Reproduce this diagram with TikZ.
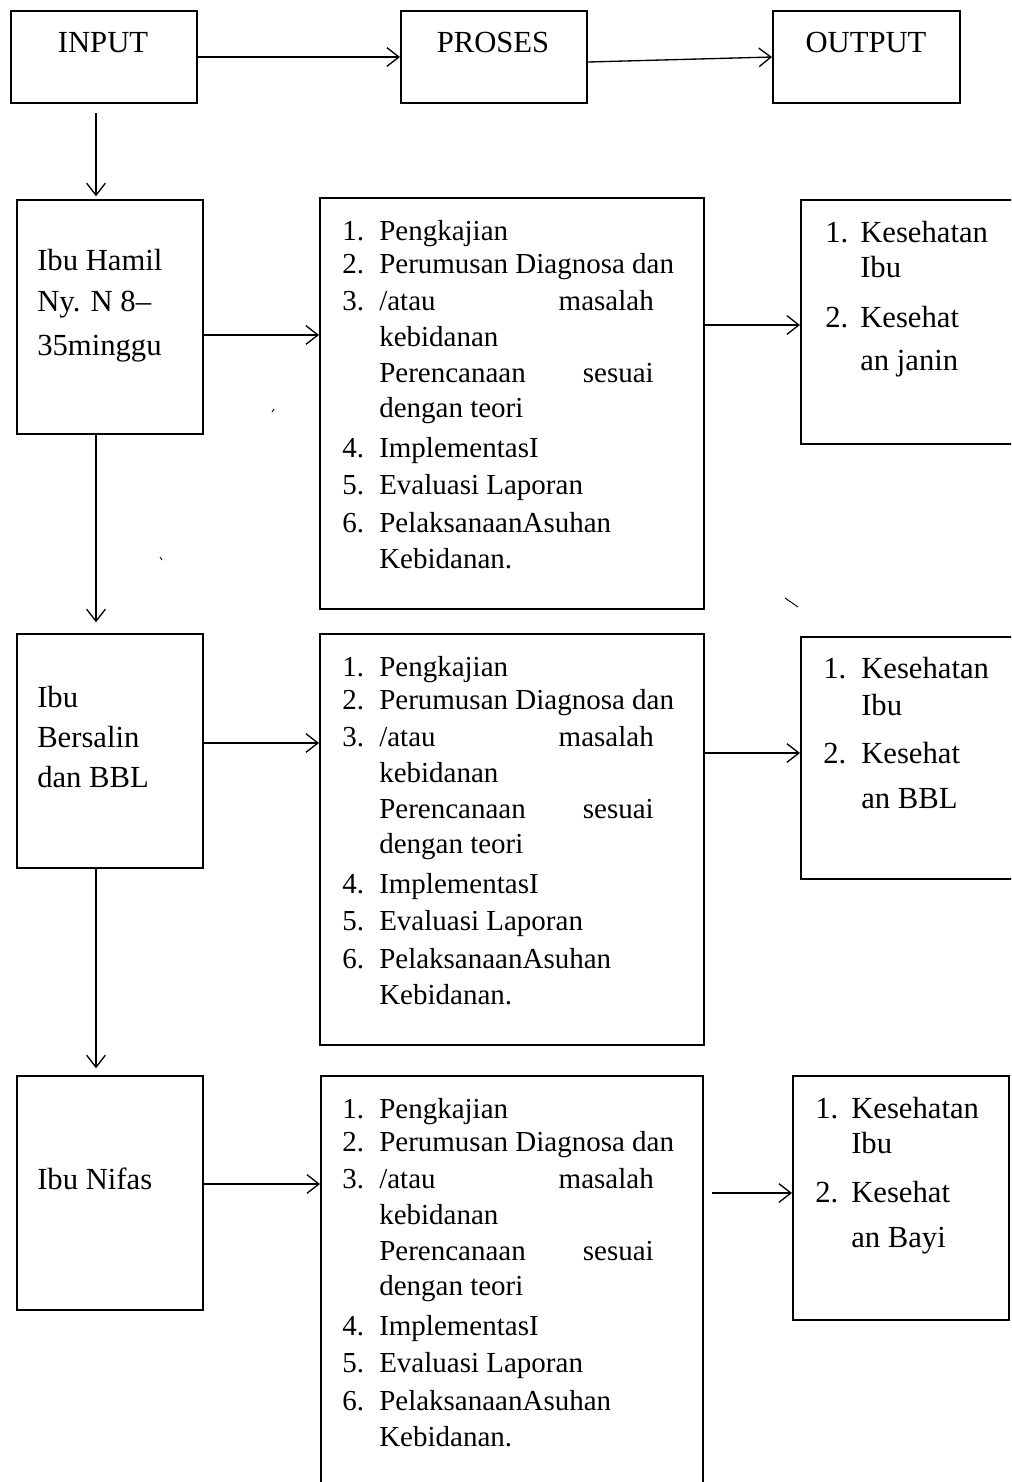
\documentclass[tikz,border=0pt]{standalone}
\usepackage{fontspec}
\setmainfont{Liberation Serif}
\usetikzlibrary{arrows.meta}
\tikzset{
 box/.style={draw, line width=1.5pt, inner sep=0pt, anchor=north west},
 arr/.style={line width=1pt, -{Straight Barb[length=9pt,width=14pt,line width=1pt]}},
 txt/.style={anchor=base west, inner sep=0pt, font=\fontsize{21.75}{26}\selectfont},
 txtr/.style={txt, anchor=base east},
 big/.style={anchor=base, inner sep=0pt, font=\fontsize{23}{28}\selectfont},
 bigl/.style={big, anchor=base west},
 stray/.style={line width=0.7pt},
}
\newcommand\mybox[5]{\node[box,minimum width={(#4-#2)*0.75pt},minimum height={(#5-#3)*0.75pt}] (#1) at (#2,#3) {};}
\newcommand\plist[2]{%
 \node[txt] (#1n1) at (342,{#2+43}) {1.};
 \node[txt] (#1a) at (379,{#2+43}) {Pengkajian};
 \node[txt] (#1n2) at (342,{#2+76}) {2.};
 \node[txt] (#1b) at (379,{#2+76}) {Perumusan Diagnosa dan};
 \node[txt] (#1n3) at (342,{#2+113}) {3.};
 \node[txt] (#1c) at (379,{#2+113}) {/atau};
 \node[txtr] (#1cc) at (654,{#2+113}) {masalah};
 \node[txt] (#1d) at (379,{#2+149}) {kebidanan};
 \node[txt] (#1e) at (379,{#2+185}) {Perencanaan};
 \node[txtr] (#1ee) at (654,{#2+185}) {sesuai};
 \node[txt] (#1f) at (379,{#2+220}) {dengan teori};
 \node[txt] (#1n4) at (342,{#2+260}) {4.};
 \node[txt] (#1g) at (379,{#2+260}) {ImplementasI};
 \node[txt] (#1n5) at (342,{#2+297}) {5.};
 \node[txt] (#1h) at (379,{#2+297}) {Evaluasi Laporan};
 \node[txt] (#1n6) at (342,{#2+335}) {6.};
 \node[txt] (#1i) at (379,{#2+335}) {PelaksanaanAsuhan};
 \node[txt] (#1j) at (379,{#2+371}) {Kebidanan.};
}
% name, xnum, xtext, y1, y2, y3, y4, last
\newcommand\olist[8]{%
 \node[bigl] (#1n1) at (#2,#4) {1.};
 \node[bigl] (#1a) at (#3,#4) {Kesehatan};
 \node[bigl] (#1b) at (#3,#5) {Ibu};
 \node[bigl] (#1n2) at (#2,#6) {2.};
 \node[bigl] (#1c) at (#3,#6) {Kesehat};
 \node[bigl] (#1d) at (#3,#7) {#8};
}
\begin{document}
\begin{tikzpicture}[x=0.75pt,y=-0.75pt]
\path[use as bounding box] (0,0) rectangle (1011,1482);
\clip (0,0) rectangle (1011,1482);
% top row
\mybox{inp}{10}{10}{196}{102}
\mybox{pro}{400}{10}{586}{102}
\mybox{out}{772}{10}{959}{102}
\node[big] (tinp) at (103,52) {INPUT};
\node[big] (tpro) at (493,52) {PROSES};
\node[big] (tout) at (866,52) {OUTPUT};
\draw[arr] (inp) -- (pro);
\draw[arr] ([yshift=-3.75pt]pro.east) -- (out.west);
% boxes
\mybox{l1}{16}{199}{202}{433}
\mybox{p1}{319}{197}{703}{608}
\mybox{o1}{800}{199}{1040}{443}
\mybox{l2}{16}{633}{202}{867}
\mybox{p2}{319}{633}{703}{1044}
\mybox{o2}{800}{636}{1040}{878}
\mybox{l3}{16}{1075}{202}{1309}
\mybox{p3}{320}{1075}{702}{1510}
\mybox{o3}{792}{1075}{1008}{1319}
% left texts
\node[bigl] (l1a) at (37,270) {Ibu Hamil};
\node[bigl] (l1b) at (37,311) {Ny. N 8–};
\node[bigl] (l1c) at (37,355) {35minggu};
\node[bigl] (l2a) at (37,707) {Ibu};
\node[bigl] (l2b) at (37,747) {Bersalin};
\node[bigl] (l2c) at (37,787) {dan BBL};
\node[bigl] (l3a) at (37,1189) {Ibu Nifas};
% process lists
\plist{p1}{197}
\plist{p2}{633}
\plist{p3}{1075}
% output lists
\olist{o1}{825}{860}{242}{277}{327}{370}{an janin}
\olist{o2}{823}{861}{678}{715}{763}{808}{an BBL}
\olist{o3}{815}{851}{1118}{1153}{1202}{1247}{an Bayi}
% vertical arrows
\coordinate (d0) at (96,113);
\draw[arr, shorten >=2pt] (d0) -- (d0 |- l1.north);
\draw[arr, shorten >=8pt] (d0 |- l1.south) -- (d0 |- l2.north);
\draw[arr, shorten >=5pt] (d0 |- l2.south) -- (d0 |- l3.north);
% horizontal arrows
\draw[arr] (l1.east |- 0,335) -- (p1.west |- 0,335);
\draw[arr] (p1.east |- 0,325) -- (o1.west |- 0,325);
\draw[arr] (l2.east |- 0,743) -- (p2.west |- 0,743);
\draw[arr] (p2.east |- 0,753) -- (o2.west |- 0,753);
\draw[arr] (l3.east |- 0,1184) -- (p3.west |- 0,1184);
\coordinate (s3) at (712,1193);
\draw[arr] (s3) -- (o3.west |- s3);
% stray marks
\draw[stray] (272,412) -- (274,409);
\draw[stray] (160,557) -- (162,560);
\draw[stray] (785,598) -- (798,607);
\end{tikzpicture}
\end{document}
